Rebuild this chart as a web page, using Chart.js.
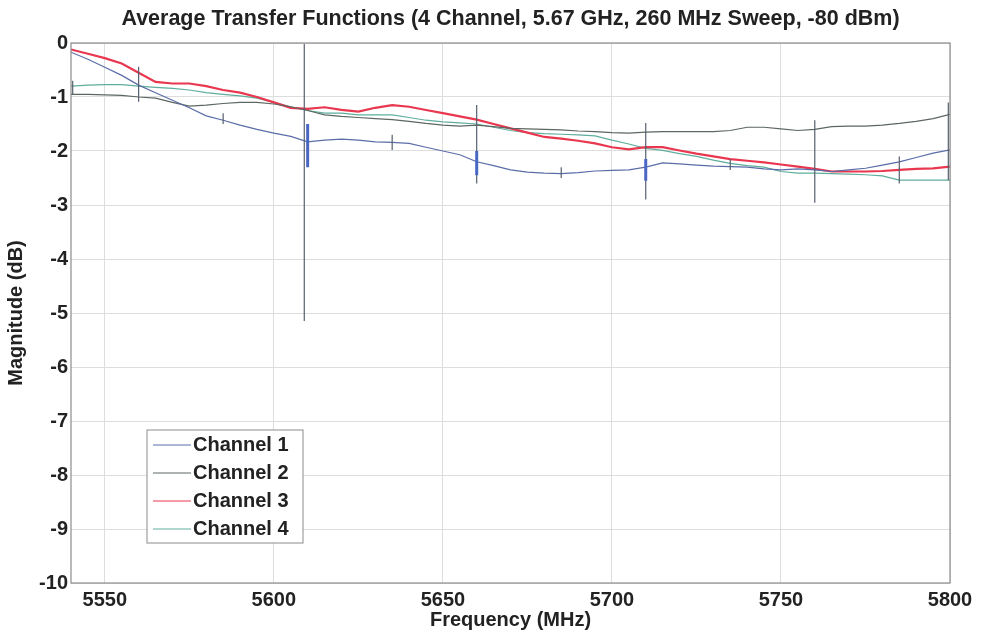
<!DOCTYPE html>
<html>
<head>
<meta charset="utf-8">
<script src="https://cdn.jsdelivr.net/npm/chart.js@4.4.1/dist/chart.umd.min.js"></script>
<style>
  html, body { margin: 0; padding: 0; background: #ffffff; }
</style>
</head>
<body>
<canvas id="transferChart" width="985" height="638"></canvas>
<script>
// frequency points (MHz), read every 5 MHz off the plot
var freqs = [5540, 5545, 5550, 5555, 5560, 5565, 5570, 5575, 5580, 5585,
  5590, 5595, 5600, 5605, 5610, 5615, 5620, 5625, 5630, 5635,
  5640, 5645, 5650, 5655, 5660, 5665, 5670, 5675, 5680, 5685,
  5690, 5695, 5700, 5705, 5710, 5715, 5720, 5725, 5730, 5735,
  5740, 5745, 5750, 5755, 5760, 5765, 5770, 5775, 5780, 5785,
  5790, 5795, 5800];

var channel1 = [-0.17, -0.30, -0.45, -0.60, -0.78, -0.92, -1.06, -1.20, -1.35, -1.43,
  -1.52, -1.60, -1.67, -1.73, -1.83, -1.80, -1.78, -1.80, -1.83, -1.84,
  -1.86, -1.93, -2.00, -2.07, -2.20, -2.27, -2.35, -2.39, -2.41, -2.42,
  -2.40, -2.37, -2.36, -2.35, -2.30, -2.22, -2.24, -2.26, -2.28, -2.29,
  -2.30, -2.33, -2.35, -2.33, -2.35, -2.38, -2.35, -2.32, -2.26, -2.20,
  -2.12, -2.04, -1.98];

var channel2 = [-0.95, -0.95, -0.96, -0.97, -1.00, -1.02, -1.10, -1.17, -1.15, -1.12,
  -1.10, -1.10, -1.13, -1.18, -1.25, -1.33, -1.36, -1.38, -1.40, -1.42,
  -1.45, -1.49, -1.52, -1.54, -1.52, -1.55, -1.58, -1.59, -1.60, -1.61,
  -1.63, -1.64, -1.66, -1.67, -1.65, -1.64, -1.64, -1.64, -1.64, -1.62,
  -1.56, -1.56, -1.59, -1.62, -1.60, -1.55, -1.54, -1.54, -1.52, -1.49,
  -1.45, -1.40, -1.32];

var channel3 = [-0.12, -0.20, -0.28, -0.38, -0.55, -0.72, -0.75, -0.75, -0.80, -0.87,
  -0.92, -1.00, -1.10, -1.20, -1.22, -1.19, -1.24, -1.27, -1.20, -1.15,
  -1.18, -1.24, -1.30, -1.36, -1.42, -1.50, -1.58, -1.66, -1.74, -1.77,
  -1.81, -1.86, -1.93, -1.97, -1.93, -1.93, -1.99, -2.05, -2.10, -2.15,
  -2.18, -2.21, -2.25, -2.29, -2.33, -2.38, -2.38, -2.38, -2.37, -2.35,
  -2.33, -2.32, -2.29];

var channel4 = [-0.80, -0.78, -0.77, -0.77, -0.80, -0.82, -0.84, -0.87, -0.92, -0.95,
  -0.98, -1.02, -1.10, -1.18, -1.25, -1.30, -1.30, -1.33, -1.33, -1.33,
  -1.38, -1.43, -1.46, -1.48, -1.50, -1.56, -1.62, -1.66, -1.68, -1.69,
  -1.70, -1.72, -1.80, -1.87, -1.95, -1.99, -2.05, -2.10, -2.17, -2.23,
  -2.27, -2.30, -2.38, -2.41, -2.41, -2.42, -2.43, -2.44, -2.46, -2.54,
  -2.54, -2.54, -2.54];

// ringing spikes at the sweep steps (top and bottom of each burst)
var spikeFreq = [5540.5, 5560, 5585, 5609, 5635, 5660, 5685, 5710, 5735, 5760, 5785, 5799.5];
var spikeTop = [-0.70, -0.44, -1.30, -0.02, -1.70, -1.15, -2.30, -1.48, -2.15, -1.43, -2.10, -1.10];
var spikeLow = [-0.95, -1.09, -1.50, -5.15, -1.98, -2.60, -2.50, -2.90, -2.35, -2.96, -2.60, -2.54];

// blue bursts on channel 1
var burstFreq = [5610, 5660, 5710];
var burstTop = [-1.50, -2.00, -2.15];
var burstLow = [-2.30, -2.45, -2.55];

var xTicks = [5550, 5600, 5650, 5700, 5750, 5800];
var yTicks = [0, -1, -2, -3, -4, -5, -6, -7, -8, -9, -10];

var channelNames = ["Channel 1", "Channel 2", "Channel 3", "Channel 4"];
var channelColors = ["#5a6da8", "#5d6762", "#e8374f", "#5fae9c"];

function toPoints(values) {
  return freqs.map(function (f, i) { return { x: f, y: values[i] }; });
}

function toSegments(fs, tops, lows) {
  var pts = [];
  for (var i = 0; i < fs.length; i++) {
    pts.push({ x: fs[i], y: tops[i] });
    pts.push({ x: fs[i], y: lows[i] });
    pts.push({ x: fs[i], y: null });
  }
  return pts;
}

var FONT = "'Liberation Sans', Arial, sans-serif";

var extrasPlugin = {
  id: "extras",
  afterDatasetsDraw: function (chart) {
    var ctx = chart.ctx;
    var area = chart.chartArea;
    ctx.save();
    // axes box
    ctx.strokeStyle = "#8c8c8c";
    ctx.lineWidth = 1.2;
    ctx.strokeRect(area.left, area.top, area.right - area.left, area.bottom - area.top);

    // legend, lower left inside the axes
    var lx = area.left + 76, ly = area.bottom - 153, lw = 156, lh = 113;
    ctx.fillStyle = "#ffffff";
    ctx.fillRect(lx, ly, lw, lh);
    ctx.strokeStyle = "#8c8c8c";
    ctx.lineWidth = 1;
    ctx.strokeRect(lx, ly, lw, lh);
    ctx.font = "bold 20px " + FONT;
    ctx.textBaseline = "middle";
    ctx.textAlign = "left";
    for (var i = 0; i < channelNames.length; i++) {
      var rowY = ly + 15 + i * 28;
      ctx.strokeStyle = channelColors[i];
      ctx.lineWidth = 1;
      ctx.beginPath();
      ctx.moveTo(lx + 6, rowY);
      ctx.lineTo(lx + 44, rowY);
      ctx.stroke();
      ctx.fillStyle = "#222222";
      ctx.fillText(channelNames[i], lx + 46, rowY);
    }
    ctx.restore();
  },
  afterDraw: function (chart) {
    var ctx = chart.ctx;
    var area = chart.chartArea;
    ctx.save();
    ctx.font = "bold 21.5px " + FONT;
    ctx.fillStyle = "#222222";
    ctx.textAlign = "center";
    ctx.textBaseline = "middle";
    ctx.fillText("Average Transfer Functions (4 Channel, 5.67 GHz, 260 MHz Sweep, -80 dBm)",
      (area.left + area.right) / 2, 19);
    ctx.restore();
  }
};

var datasets = channelNames.map(function (name, i) {
  return {
    label: name,
    data: toPoints([channel1, channel2, channel3, channel4][i]),
    borderColor: channelColors[i],
    borderWidth: i === 2 ? 2.2 : 1.2,
    pointRadius: 0,
    tension: 0
  };
});

datasets.unshift({
  label: "spikes",
  data: toSegments(spikeFreq, spikeTop, spikeLow),
  borderColor: "#56606e",
  borderWidth: 1.2,
  pointRadius: 0,
  spanGaps: false
});
datasets.unshift({
  label: "bursts",
  data: toSegments(burstFreq, burstTop, burstLow),
  borderColor: "#4a67c4",
  borderWidth: 3,
  pointRadius: 0,
  spanGaps: false
});

new Chart(document.getElementById("transferChart"), {
  type: "line",
  data: { datasets: datasets },
  plugins: [extrasPlugin],
  options: {
    responsive: false,
    animation: false,
    devicePixelRatio: 1,
    layout: { padding: { top: 43, right: 35, left: 0, bottom: 0 } },
    plugins: {
      legend: { display: false },
      title: { display: false },
      tooltip: { enabled: false }
    },
    scales: {
      x: {
        type: "linear",
        min: 5540,
        max: 5800,
        afterBuildTicks: function (scale) {
          scale.ticks = xTicks.map(function (v) { return { value: v }; });
        },
        afterFit: function (scale) { scale.height = 55; },
        grid: { color: "#dddddd", drawTicks: false },
        border: { display: false },
        ticks: {
          color: "#222222",
          padding: 5,
          maxRotation: 0,
          callback: function (v) { return String(v); },
          font: { family: FONT, size: 20, weight: "bold" }
        },
        title: {
          display: true,
          text: "Frequency (MHz)",
          color: "#222222",
          padding: { top: 0, bottom: 6 },
          font: { family: FONT, size: 20, weight: "bold" }
        }
      },
      y: {
        type: "linear",
        min: -10,
        max: 0,
        afterBuildTicks: function (scale) {
          scale.ticks = yTicks.map(function (v) { return { value: v }; });
        },
        afterFit: function (scale) { scale.width = 71; },
        grid: { color: "#dddddd", drawTicks: false },
        border: { display: false },
        ticks: {
          color: "#222222",
          padding: 3,
          callback: function (v) { return String(v); },
          font: { family: FONT, size: 20, weight: "bold" }
        },
        title: {
          display: true,
          text: "Magnitude (dB)",
          color: "#222222",
          padding: { top: 4, bottom: 0 },
          font: { family: FONT, size: 20, weight: "bold" }
        }
      }
    }
  }
});
</script>
</body>
</html>
